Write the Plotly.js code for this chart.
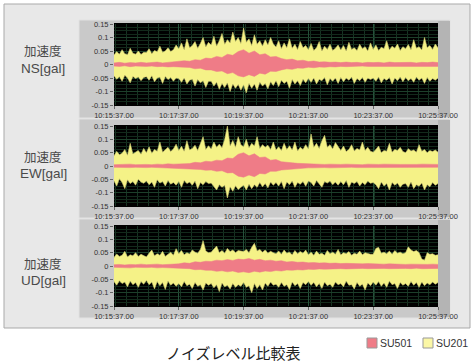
<!DOCTYPE html>
<html>
<head>
<meta charset="utf-8">
<script src="https://cdn.plot.ly/plotly-3.0.1.min.js"></script>
<style>
html,body{margin:0;padding:0;background:#fff;}
#chart{width:476px;height:363px;}
</style>
</head>
<body>
<div id="chart"></div>
<script>
// ---- data (gal x 0.001); yellow sampled every 5 s, pink every 10 s from 10:15:37 ----
const startTime = '2000-01-01 10:15:37';
const endTime = '2000-01-01 10:25:37';
const tickTimes = ['2000-01-01 10:15:37','2000-01-01 10:17:37','2000-01-01 10:19:37','2000-01-01 10:21:37','2000-01-01 10:23:37','2000-01-01 10:25:37'];
const tickLabels = ['10:15:37.00','10:17:37.00','10:19:37.00','10:21:37.00','10:23:37.00','10:25:37.00'];
const yTickVals = [-0.15,-0.1,-0.05,0,0.05,0.1,0.15];
const yTickLabels = ['-0.15','-0.1','-0.05','0','0.05','0.1','0.15'];
const panelLabelTop = ['加速度','加速度','加速度'];
const panelLabelBottom = ['NS[gal]','EW[gal]','UD[gal]'];
const chartTitle = 'ノイズレベル比較表';
const seriesNames = ['SU501','SU201'];

const nsYellowUpper = [
 35,48,38,55,40,36,60,42,38,50,37,45,
 44,58,40,52,47,68,45,50,62,48,55,72,
 58,80,55,95,62,70,85,60,78,100,65,82,
 72,105,68,88,115,75,92,80,120,85,100,78,
 135,82,95,70,110,75,88,68,92,72,100,76,
 65,88,58,80,62,95,60,75,55,85,62,70,
 55,78,52,62,85,50,68,56,75,52,60,72,
 54,70,50,82,56,62,52,75,58,66,50,80,
 56,72,52,64,58,88,54,68,60,76,52,66,
 58,74,55,92,60,66,54,100,62,70,56,76,
 62];
const nsYellowLower = [
 -42,-55,-45,-62,-40,-50,-68,-44,-52,-46,-60,-48,
 -45,-58,-42,-64,-50,-47,-70,-44,-56,-48,-62,-50,
 -52,-66,-50,-72,-58,-55,-80,-56,-68,-60,-85,-62,
 -62,-80,-66,-92,-70,-85,-68,-100,-72,-88,-74,-95,
 -75,-105,-70,-88,-72,-95,-66,-80,-70,-90,-64,-78,
 -60,-82,-58,-70,-62,-88,-56,-72,-60,-78,-55,-68,
 -52,-66,-50,-72,-55,-60,-48,-75,-52,-62,-50,-70,
 -48,-64,-50,-58,-46,-70,-52,-60,-48,-66,-50,-56,
 -50,-62,-46,-68,-52,-58,-48,-72,-50,-60,-46,-64,
 -48,-60,-52,-66,-46,-58,-50,-70,-48,-62,-52,-58,
 -50];
const nsPinkUpper = [
 6,8,5,7,6,8, 6,7,9,6,8,10, 10,14,12,18,16,24, 22,30,26,38,34,48, 55,42,50,36,40,28,
 30,22,18,20,14,16, 11,13,9,10,8,9, 7,9,7,8,6,8, 7,8,6,9,7,8, 7,8,6,8,7,9, 7];
const nsPinkLower = [
 -6,-7,-5,-8,-6,-7, -7,-6,-8,-7,-9,-8, -9,-12,-11,-16,-14,-20, -20,-26,-24,-34,-30,-42, -46,-38,-44,-32,-36,-25,
 -26,-20,-16,-18,-13,-14, -10,-12,-9,-10,-8,-9, -7,-8,-7,-8,-6,-7, -7,-8,-6,-8,-7,-8, -7,-8,-6,-7,-7,-8, -7];

const ewYellowUpper = [
 38,55,42,48,62,40,85,45,52,58,44,66,
 50,72,48,62,55,90,52,60,70,54,64,82,
 58,74,55,95,60,66,78,58,85,110,62,76,
 64,90,70,82,68,100,150,75,96,70,110,80,
 72,100,68,85,75,110,66,80,70,78,62,90,
 60,72,58,85,62,76,60,90,56,70,62,80,
 64,120,70,85,66,95,115,70,80,64,88,72,
 58,75,54,62,80,56,66,60,90,58,70,55,
 52,62,75,50,58,55,85,52,62,58,70,54,
 50,65,56,60,52,80,55,62,50,58,54,60,
 52];
const ewYellowLower = [
 -55,-75,-48,-62,-85,-52,-66,-58,-72,-50,-60,-65,
 -56,-70,-60,-80,-52,-64,-58,-75,-54,-68,-62,-72,
 -58,-80,-54,-66,-60,-72,-56,-85,-62,-70,-58,-66,
 -64,-75,-90,-70,-80,-72,-120,-78,-95,-74,-88,-80,
 -72,-90,-68,-85,-70,-80,-62,-78,-66,-82,-60,-72,
 -62,-75,-58,-85,-60,-70,-56,-80,-62,-68,-58,-76,
 -56,-62,-75,-54,-66,-80,-58,-64,-56,-70,-60,-72,
 -58,-70,-54,-80,-60,-66,-58,-75,-62,-70,-56,-65,
 -62,-70,-85,-60,-75,-66,-90,-62,-72,-64,-80,-68,
 -66,-80,-60,-85,-70,-76,-64,-90,-70,-78,-62,-72,
 -66];
const ewPinkUpper = [
 5,6,5,7,5,6, 6,5,7,6,8,7, 8,10,9,14,12,18, 16,22,20,30,28,44, 50,38,46,32,34,22,
 24,16,15,12,10,9, 8,7,8,6,7,6, 6,7,6,6,5,7, 6,6,7,6,5,6, 6,5,6,7,6,5, 6];
const ewPinkLower = [
 -5,-6,-5,-6,-5,-6, -6,-5,-6,-7,-7,-8, -8,-9,-10,-12,-13,-16, -15,-20,-18,-26,-25,-38, -42,-34,-40,-28,-30,-20,
 -20,-15,-13,-11,-9,-8, -7,-7,-6,-6,-7,-6, -6,-6,-5,-6,-6,-5, -6,-5,-6,-6,-5,-6, -5,-6,-6,-5,-6,-6, -5];

const udYellowUpper = [
 32,45,36,40,55,34,42,38,50,36,44,40,
 34,48,60,38,46,40,55,36,44,52,40,65,
 46,58,42,50,45,60,52,48,62,95,56,50,
 52,64,75,50,58,48,66,54,60,50,58,56,
 54,62,50,70,85,56,62,52,60,48,55,50,
 46,56,44,60,48,52,42,58,46,54,48,60,
 42,52,40,56,44,48,40,58,46,52,44,62,
 42,50,46,54,40,48,44,56,42,50,46,44,
 44,66,70,48,52,46,56,44,58,48,52,46,
 50,72,60,54,58,50,26,22,50,44,46,40,
 42];
const udYellowLower = [
 -58,-72,-55,-66,-60,-78,-56,-70,-62,-80,-58,-68,
 -54,-70,-60,-86,-58,-74,-62,-88,-56,-72,-64,-76,
 -66,-78,-58,-74,-68,-84,-62,-76,-70,-90,-64,-72,
 -66,-82,-70,-96,-64,-78,-72,-86,-66,-80,-70,-76,
 -62,-80,-74,-100,-66,-84,-70,-90,-64,-76,-60,-72,
 -68,-80,-62,-76,-70,-88,-60,-74,-66,-84,-62,-70,
 -58,-72,-62,-78,-66,-84,-60,-74,-68,-80,-60,-70,
 -66,-78,-56,-72,-70,-86,-62,-76,-68,-90,-64,-74,
 -60,-72,-58,-76,-64,-80,-56,-70,-66,-84,-62,-72,
 -66,-76,-58,-72,-62,-80,-60,-74,-64,-70,-60,-68,
 -62];
const udPinkUpper = [
 5,6,4,6,5,7, 5,6,7,5,6,8, 8,12,10,16,14,18, 17,22,20,24,21,26, 24,28,22,25,20,22,
 18,20,15,17,14,15, 12,13,11,12,10,11, 9,10,9,10,8,9, 8,9,7,8,7,8, 6,7,6,7,6,7, 6];
const udPinkLower = [
 -5,-6,-5,-7,-5,-6, -6,-5,-7,-6,-7,-8, -8,-11,-10,-14,-13,-16, -16,-20,-18,-22,-19,-24, -22,-25,-20,-23,-19,-21,
 -17,-19,-15,-16,-14,-15, -12,-13,-11,-12,-11,-12, -10,-11,-10,-11,-9,-10, -9,-10,-9,-10,-9,-10, -9,-10,-8,-10,-9,-10, -9];

// ---- sampling grid (time stamps of the samples) ----
function grid(stepSec, n){
  const t0 = new Date('2000-01-01T10:15:37');
  const out = [];
  const p = v => String(v).padStart(2,'0');
  for (let i=0;i<n;i++){
    const d = new Date(t0.getTime()+i*stepSec*1000);
    out.push('2000-01-01 '+p(d.getHours())+':'+p(d.getMinutes())+':'+p(d.getSeconds()));
  }
  return out;
}
const milli = a => a.map(v => v/1000);

const YELLOW = '#f5f287';
const YELLOW_EDGE = '#cfcb72';
const PINK = '#ef7c87';

const panels = [
  [nsYellowUpper, nsYellowLower, nsPinkUpper, nsPinkLower],
  [ewYellowUpper, ewYellowLower, ewPinkUpper, ewPinkLower],
  [udYellowUpper, udYellowLower, udPinkUpper, udPinkLower]
];

const traces = [];
panels.forEach((p, k) => {
  const xa = k===0 ? 'x' : 'x'+(k+1);
  const ya = k===0 ? 'y' : 'y'+(k+1);
  traces.push({x:grid(5, p[1].length), y:milli(p[1]), xaxis:xa, yaxis:ya, type:'scatter', mode:'lines',
    line:{width:0.6, color:YELLOW_EDGE}, showlegend:false, hoverinfo:'skip', name:seriesNames[1]});
  traces.push({x:grid(5, p[0].length), y:milli(p[0]), xaxis:xa, yaxis:ya, type:'scatter', mode:'lines', fill:'tonexty',
    fillcolor:YELLOW, line:{width:0.6, color:YELLOW_EDGE}, showlegend:false, hoverinfo:'skip', name:seriesNames[1]});
  traces.push({x:grid(10, p[3].length), y:milli(p[3]), xaxis:xa, yaxis:ya, type:'scatter', mode:'lines',
    line:{width:0.5, color:PINK}, showlegend:false, hoverinfo:'skip', name:seriesNames[0]});
  traces.push({x:grid(10, p[2].length), y:milli(p[2]), xaxis:xa, yaxis:ya, type:'scatter', mode:'lines', fill:'tonexty',
    fillcolor:PINK, line:{width:0.5, color:PINK}, showlegend:false, hoverinfo:'skip', name:seriesNames[0]});
});

const W = 476, H = 363;
const px = v => v/W;
const py = v => 1 - v/H;

const tickFont = {family:'Liberation Sans, Arial, sans-serif', size:7.5, color:'#333'};
function xAxis(){
  return {
    type:'date', range:[startTime, endTime], domain:[px(114), px(438)],
    tickvals:tickTimes, ticktext:tickLabels, tickfont:tickFont,
    ticks:'outside', ticklen:3, tickcolor:'#666', tickwidth:1,
    showgrid:true, gridcolor:'#25503a', gridwidth:1,
    minor:{dtick:20000, showgrid:true, gridcolor:'#163222', gridwidth:1, ticks:''},
    zeroline:false, showline:false, fixedrange:true
  };
}
function yAxis(top, bottom){
  return {
    range:[-0.15, 0.15], domain:[py(bottom), py(top)],
    tickvals:yTickVals, ticktext:yTickLabels, tickfont:tickFont,
    ticks:'outside', ticklen:3, tickcolor:'#666', tickwidth:1,
    showgrid:true, gridcolor:'#1d3f2a', gridwidth:1,
    minor:{tickvals:[-0.1375,-0.125,-0.1125,-0.0875,-0.075,-0.0625,-0.0375,-0.025,-0.0125,0.0125,0.025,0.0375,0.0625,0.075,0.0875,0.1125,0.125,0.1375],
      showgrid:true, gridcolor:'#132a1b', gridwidth:1, ticks:''},
    zeroline:false, showline:false, fixedrange:true
  };
}

const plotTops = [24, 126, 226];
const plotBottoms = [105, 206, 306];
const panelTops = [20, 119, 219];
const panelBottoms = [118, 218, 318];
const labelTopY = [51, 156, 263];
const labelBottomY = [68, 173, 280];

const shapes = [
  {type:'rect', xref:'paper', yref:'paper', x0:px(4), x1:px(470), y0:py(328), y1:py(4),
   fillcolor:'#e8e8e8', line:{color:'#a9a9a9', width:1}, layer:'below'}
];
panelTops.forEach((t, k) => {
  shapes.push({type:'rect', xref:'paper', yref:'paper', x0:px(79), x1:px(450), y0:py(panelBottoms[k]), y1:py(t),
    fillcolor:'#c9c9c9', line:{color:'#e2e2e2', width:1}, layer:'below'});
  shapes.push({type:'rect', xref:'paper', yref:'paper', x0:px(438), x1:px(450), y0:py(panelBottoms[k]-1), y1:py(t+1),
    fillcolor:'#b4b4b4', line:{width:0}, layer:'below'});
  shapes.push({type:'rect', xref:'paper', yref:'paper', x0:px(114), x1:px(438), y0:py(plotBottoms[k]+1), y1:py(plotTops[k]-1),
    fillcolor:'#000', line:{width:0}, layer:'below'});
});
// legend squares
shapes.push({type:'rect', xref:'paper', yref:'paper', x0:px(367), x1:px(377), y0:py(348), y1:py(338),
  fillcolor:PINK, line:{color:'#999', width:1}});
shapes.push({type:'rect', xref:'paper', yref:'paper', x0:px(423), x1:px(433), y0:py(348), y1:py(338),
  fillcolor:'#fbf7a6', line:{color:'#999', width:1}});

const annotations = [];
for (let k=0;k<3;k++){
  annotations.push({text:panelLabelTop[k], xref:'paper', yref:'paper', x:px(43), y:py(labelTopY[k]),
    xanchor:'center', yanchor:'middle', showarrow:false, borderpad:0,
    font:{family:'Noto Sans CJK JP, sans-serif', size:12.5, color:'#4a4a4a'}});
  annotations.push({text:panelLabelBottom[k], xref:'paper', yref:'paper', x:px(43), y:py(labelBottomY[k]),
    xanchor:'center', yanchor:'middle', showarrow:false, borderpad:0,
    font:{family:'Liberation Sans, Arial, sans-serif', size:13.5, color:'#4a4a4a'}});
}
annotations.push({text:chartTitle, xref:'paper', yref:'paper', x:px(233), y:py(352),
  xanchor:'center', yanchor:'middle', showarrow:false,
  font:{family:'Noto Sans CJK JP, sans-serif', size:15, color:'#222'}});
annotations.push({text:seriesNames[0], xref:'paper', yref:'paper', x:px(378), y:py(343),
  xanchor:'left', yanchor:'middle', showarrow:false,
  font:{family:'Liberation Sans, Arial, sans-serif', size:10.5, color:'#333'}});
annotations.push({text:seriesNames[1], xref:'paper', yref:'paper', x:px(434), y:py(343),
  xanchor:'left', yanchor:'middle', showarrow:false,
  font:{family:'Liberation Sans, Arial, sans-serif', size:10.5, color:'#333'}});

const layout = {
  width:W, height:H, margin:{l:0, r:0, t:0, b:0},
  paper_bgcolor:'#ffffff', plot_bgcolor:'#000000',
  showlegend:false,
  xaxis:Object.assign(xAxis(), {anchor:'y'}), yaxis:Object.assign(yAxis(plotTops[0], plotBottoms[0]), {anchor:'x'}),
  xaxis2:Object.assign(xAxis(), {anchor:'y2'}), yaxis2:Object.assign(yAxis(plotTops[1], plotBottoms[1]), {anchor:'x2'}),
  xaxis3:Object.assign(xAxis(), {anchor:'y3'}), yaxis3:Object.assign(yAxis(plotTops[2], plotBottoms[2]), {anchor:'x3'}),
  shapes:shapes, annotations:annotations
};

Plotly.newPlot('chart', traces, layout, {displayModeBar:false, staticPlot:true});
</script>
</body>
</html>
